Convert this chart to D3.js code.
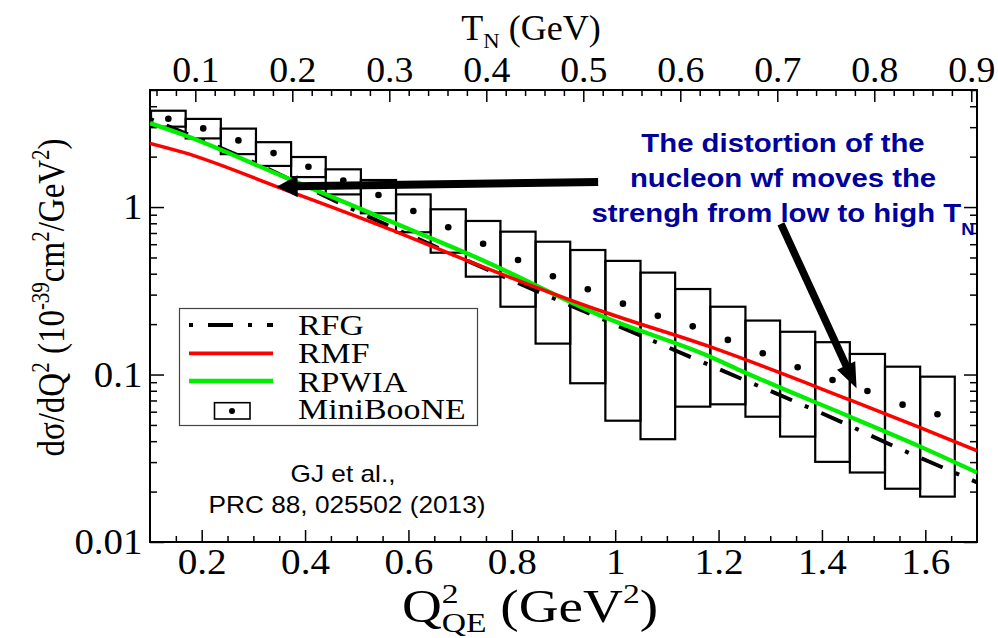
<!DOCTYPE html>
<html><head><meta charset="utf-8">
<script src="https://cdn.jsdelivr.net/npm/d3@7"></script>
<style>body{margin:0;background:#fff;} svg{display:block;}</style>
</head><body>
<svg id="c" width="998" height="638"></svg>
<script>
// ---------------- data ----------------
const q2Domain = [0.1, 1.7];
const yDomain = [0.01, 5];
const nucleonMass = 0.9383; // GeV, T_N = Q^2 / (2 M)

// MiniBooNE bins (Q^2_QE edges, GeV^2) and values (central, lower, upper)
const binEdges = [0.102, 0.169, 0.237, 0.305, 0.373, 0.440, 0.508, 0.576, 0.643, 0.711, 0.778, 0.846,
                  0.913, 0.981, 1.049, 1.116, 1.184, 1.252, 1.319, 1.387, 1.454, 1.522, 1.590, 1.657];
const mbCentral = [3.37, 2.95, 2.50, 2.10, 1.74, 1.44, 1.18, 0.948, 0.757, 0.604, 0.483, 0.386,
                   0.323, 0.265, 0.224, 0.194, 0.161, 0.134, 0.1105, 0.0928, 0.0798, 0.0661, 0.0579];
const mbLow     = [3.02, 2.57, 2.07, 1.76, 1.51, 1.19, 0.918, 0.707, 0.534, 0.384, 0.254, 0.153,
                   0.0887, 0.053, 0.0411, 0.0643, 0.0664, 0.056, 0.0426, 0.0301, 0.0260, 0.0208, 0.01866];
const mbHigh    = [3.76, 3.36, 2.94, 2.44, 1.99, 1.68, 1.45, 1.19, 0.970, 0.826, 0.713, 0.621,
                   0.554, 0.477, 0.406, 0.324, 0.254, 0.210, 0.180, 0.156, 0.1327, 0.1114, 0.0971];

// Theory curves
const rmfQ2   = [0.1, 0.1645, 0.358, 0.551, 0.738, 0.977, 1.183, 1.454, 1.590, 1.700];
const rmfVal  = [2.40, 2.12, 1.28, 0.764, 0.447, 0.237, 0.1466, 0.0705, 0.0482, 0.0351];
const rpwiaQ2  = [0.1, 0.1645, 0.358, 0.551, 0.738, 0.976, 1.183, 1.240, 1.454, 1.590, 1.700];
const rpwiaVal = [3.17, 2.70, 1.52, 0.857, 0.490, 0.222, 0.128, 0.1065, 0.056, 0.0371, 0.026];
const rfgQ2  = [0.1, 0.251, 0.545, 0.758, 0.845, 0.945, 1.045, 1.144, 1.242, 1.351, 1.443, 1.541, 1.639, 1.700];
const rfgVal = [3.36, 2.16, 0.815, 0.417, 0.318, 0.235, 0.173, 0.128, 0.095, 0.0683, 0.0512, 0.0371, 0.0274, 0.0227];

// Tick labels
const bottomMajor = [0.2, 0.4, 0.6, 0.8, 1.0, 1.2, 1.4, 1.6];
const bottomLabels = ["0.2", "0.4", "0.6", "0.8", "1", "1.2", "1.4", "1.6"];
const topMajor = [0.1, 0.2, 0.3, 0.4, 0.5, 0.6, 0.7, 0.8, 0.9];
const topLabels = ["0.1", "0.2", "0.3", "0.4", "0.5", "0.6", "0.7", "0.8", "0.9"];
const yMajor = [0.01, 0.1, 1];
const yLabels = ["0.01", "0.1", "1"];

const legendNames = ["RFG", "RMF", "RPWIA", "MiniBooNE"];
const noteLines = ["The distortion of the", "nucleon wf moves the", "strengh from low to high T"];
const citeLines = ["GJ et al.,", "PRC 88, 025502 (2013)"];

// annotation arrows in data coordinates [Q2, value]
const arrow1 = {from: [0.967, 1.412], to: [0.345, 1.324]};
const arrow2 = {from: [1.3207, 0.793], to: [1.467, 0.0828]};

// ---------------- layout ----------------
const P = {l: 150, r: 977, t: 90, b: 542};
const SERIF = "'Liberation Serif','Times New Roman',serif";
const SANS = "'Liberation Sans',Arial,sans-serif";
const svg = d3.select("#c");

const x = d3.scaleLinear().domain(q2Domain).range([P.l, P.r]);
const xT = d3.scaleLinear().domain(q2Domain.map(q => q / (2 * nucleonMass))).range([P.l, P.r]);
const y = d3.scaleLog().domain(yDomain).range([P.b, P.t]);

svg.append("defs").append("clipPath").attr("id", "clip")
  .append("rect").attr("x", P.l).attr("y", P.t).attr("width", P.r - P.l).attr("height", P.b - P.t);

// minor tick values
const bottomMinor = d3.range(0.15, 1.70, 0.05).filter(v => !bottomMajor.some(m => Math.abs(m - v) < 1e-6));
const topMinor = d3.range(0.06, 0.905, 0.02).filter(v => !topMajor.some(m => Math.abs(m - v) < 1e-6));
const yMinor = [];
[0.01, 0.1, 1].forEach(d => { for (let k = 2; k <= 9; k++) { const v = d * k; if (v <= 5) yMinor.push(v); } });

function styleAxis(g, fs, sx) {
  g.attr("font-family", SERIF).attr("font-size", fs);
  g.select(".domain").remove();
  g.selectAll(".tick line").attr("stroke", "#000").attr("stroke-width", 1.5);
  g.selectAll(".tick text").attr("fill", "#000").attr("transform", `scale(${sx},1)`);
}

// bottom axis
const gb = svg.append("g").attr("transform", `translate(0,${P.b})`)
  .call(d3.axisBottom(x).tickValues(bottomMajor).tickSize(-12).tickSizeOuter(0).tickPadding(7)
    .tickFormat((d, i) => bottomLabels[i]));
styleAxis(gb, 35, 1.12);
const gbm = svg.append("g").attr("transform", `translate(0,${P.b})`)
  .call(d3.axisBottom(x).tickValues(bottomMinor).tickSize(-6).tickSizeOuter(0).tickFormat(""));
styleAxis(gbm, 35, 1);

// top axis (T_N)
const gt = svg.append("g").attr("transform", `translate(0,${P.t})`)
  .call(d3.axisTop(xT).tickValues(topMajor).tickSize(-12).tickSizeOuter(0).tickPadding(8)
    .tickFormat((d, i) => topLabels[i]));
styleAxis(gt, 36, 1.05);
const gtm = svg.append("g").attr("transform", `translate(0,${P.t})`)
  .call(d3.axisTop(xT).tickValues(topMinor).tickSize(-6).tickSizeOuter(0).tickFormat(""));
styleAxis(gtm, 36, 1);

// left axis
const gl = svg.append("g").attr("transform", `translate(${P.l},0)`)
  .call(d3.axisLeft(y).tickValues(yMajor).tickSize(-14).tickSizeOuter(0).tickPadding(7)
    .tickFormat((d, i) => yLabels[i]));
styleAxis(gl, 36, 1.08);
const glm = svg.append("g").attr("transform", `translate(${P.l},0)`)
  .call(d3.axisLeft(y).tickValues(yMinor).tickSize(-7).tickSizeOuter(0).tickFormat(""));
styleAxis(glm, 36, 1);

// right axis
const gr = svg.append("g").attr("transform", `translate(${P.r},0)`)
  .call(d3.axisRight(y).tickValues(yMajor).tickSize(-13).tickSizeOuter(0).tickFormat(""));
styleAxis(gr, 36, 1);
const grm = svg.append("g").attr("transform", `translate(${P.r},0)`)
  .call(d3.axisRight(y).tickValues(yMinor).tickSize(-7).tickSizeOuter(0).tickFormat(""));
styleAxis(grm, 36, 1);

// frame
svg.append("rect").attr("x", P.l).attr("y", P.t).attr("width", P.r - P.l).attr("height", P.b - P.t)
  .attr("fill", "none").attr("stroke", "#000").attr("stroke-width", 2);

// ---------------- data marks ----------------
const plotG = svg.append("g").attr("clip-path", "url(#clip)");

const bins = mbCentral.map((c, i) => ({lo: binEdges[i], hi: binEdges[i + 1], c, l: mbLow[i], h: mbHigh[i]}));
plotG.selectAll("rect.box").data(bins).join("rect").attr("class", "box")
  .attr("x", d => x(d.lo)).attr("width", d => x(d.hi) - x(d.lo))
  .attr("y", d => y(d.h)).attr("height", d => y(d.l) - y(d.h))
  .attr("fill", "none").attr("stroke", "#000").attr("stroke-width", 2.2);

const line = d3.line().x(d => x(d[0])).y(d => y(d[1])).curve(d3.curveMonotoneX);
const RFG_DASH = "4,14,23,14";
plotG.append("path").datum(rfgQ2.map((q, i) => [q, rfgVal[i]])).attr("d", line)
  .attr("fill", "none").attr("stroke", "#000").attr("stroke-width", 4).attr("stroke-dasharray", RFG_DASH);
plotG.append("path").datum(rpwiaQ2.map((q, i) => [q, rpwiaVal[i]])).attr("d", line)
  .attr("fill", "none").attr("stroke", "#00ee00").attr("stroke-width", 4.3);
plotG.append("path").datum(rmfQ2.map((q, i) => [q, rmfVal[i]])).attr("d", line)
  .attr("fill", "none").attr("stroke", "#ff0000").attr("stroke-width", 3.5);

plotG.selectAll("circle.pt").data(bins).join("circle").attr("class", "pt")
  .attr("cx", d => x((d.lo + d.hi) / 2)).attr("cy", d => y(d.c)).attr("r", 3.3).attr("fill", "#000");

// ---------------- legend ----------------
const lg = svg.append("g");
lg.append("rect").attr("x", 179.5).attr("y", 308.5).attr("width", 298).attr("height", 117)
  .attr("fill", "#fff").attr("stroke", "#444").attr("stroke-width", 1.2);
const rowY = [325, 353.3, 381, 409];
const baseY = [335, 363.3, 391.7, 419.3];
lg.append("line").attr("x1", 189).attr("x2", 273).attr("y1", rowY[0]).attr("y2", rowY[0])
  .attr("stroke", "#000").attr("stroke-width", 4).attr("stroke-dasharray", "4,15,25,15");
lg.append("line").attr("x1", 189).attr("x2", 273).attr("y1", rowY[1]).attr("y2", rowY[1])
  .attr("stroke", "#ff0000").attr("stroke-width", 3.8);
lg.append("line").attr("x1", 189).attr("x2", 273).attr("y1", rowY[2]).attr("y2", rowY[2])
  .attr("stroke", "#00ee00").attr("stroke-width", 4.5);
lg.append("rect").attr("x", 214.5).attr("y", 402.7).attr("width", 35.5).attr("height", 16.3)
  .attr("fill", "none").attr("stroke", "#000").attr("stroke-width", 1.6);
lg.append("circle").attr("cx", 232).attr("cy", 411).attr("r", 3).attr("fill", "#000");
legendNames.forEach((n, i) => {
  lg.append("text").attr("transform", `translate(298,${baseY[i]}) scale(1.13,1)`)
    .attr("font-family", SERIF).attr("font-size", 30).attr("fill", "#000").text(n);
});

// citation
citeLines.forEach((t, i) => {
  svg.append("text").attr("transform", `translate(${i ? 347 : 343},${i ? 513 : 482}) scale(1.14,1)`)
    .attr("text-anchor", "middle").attr("font-family", SANS).attr("font-size", 23).attr("fill", "#000").text(t);
});

// ---------------- annotation ----------------
const noteBase = [151.7, 186.7, 221.7];
noteLines.forEach((t, i) => {
  const tx = svg.append("text").attr("transform", `translate(783,${noteBase[i]}) scale(1.15,1)`)
    .attr("text-anchor", "middle").attr("font-family", SANS).attr("font-weight", "bold")
    .attr("font-size", 25.5).attr("fill", "#00009c");
  tx.append("tspan").text(t);
  if (i === 2) tx.append("tspan").attr("font-size", 16).attr("dy", 13).text("N");
});

function arrow(a, w, headLen, headHalf) {
  const x0 = x(a.from[0]), y0 = y(a.from[1]), x1 = x(a.to[0]), y1 = y(a.to[1]);
  const L = Math.hypot(x1 - x0, y1 - y0), ux = (x1 - x0) / L, uy = (y1 - y0) / L;
  const bx = x1 - ux * headLen, by = y1 - uy * headLen;
  svg.append("line").attr("x1", x0).attr("y1", y0).attr("x2", bx + ux * 2).attr("y2", by + uy * 2)
    .attr("stroke", "#000").attr("stroke-width", w);
  svg.append("path").attr("d", `M${x1},${y1}L${bx - uy * headHalf},${by + ux * headHalf}L${bx + uy * headHalf},${by - ux * headHalf}Z`)
    .attr("fill", "#000");
}
arrow(arrow1, 8, 21, 11);
arrow(arrow2, 7.5, 25, 10);

// ---------------- axis titles ----------------
const tt = svg.append("text").attr("transform", "translate(531,40) scale(1.03,1)").attr("text-anchor", "middle")
  .attr("font-family", SERIF).attr("font-size", 35).attr("fill", "#000");
tt.append("tspan").text("T");
tt.append("tspan").attr("font-size", 22).attr("dy", 8).text("N");
tt.append("tspan").attr("dy", -8).text(" (GeV)");

const bt = svg.append("text").attr("transform", "translate(530,622) scale(1.2,1)").attr("text-anchor", "middle")
  .attr("font-family", SERIF).attr("font-size", 46).attr("fill", "#000");
bt.append("tspan").text("Q");
bt.append("tspan").attr("font-size", 28).attr("dy", -19).text("2");
bt.append("tspan").attr("font-size", 28).attr("dx", -14).attr("dy", 29).text("QE");
bt.append("tspan").attr("dy", -10).text(" (GeV");
bt.append("tspan").attr("font-size", 28).attr("dy", -19).text("2");
bt.append("tspan").attr("dy", 19).text(")");

const yt = svg.append("text").attr("transform", "translate(64,297.5) rotate(-90) scale(1,1.15)").attr("text-anchor", "middle")
  .attr("font-family", SERIF).attr("font-size", 33).attr("fill", "#000");
yt.append("tspan").text("dσ/dQ");
yt.append("tspan").attr("font-size", 21).attr("dy", -13).text("2");
yt.append("tspan").attr("dy", 13).text(" (10");
yt.append("tspan").attr("font-size", 21).attr("dy", -13).text("-39");
yt.append("tspan").attr("dy", 13).text("cm");
yt.append("tspan").attr("font-size", 21).attr("dy", -13).text("2");
yt.append("tspan").attr("dy", 13).text("/GeV");
yt.append("tspan").attr("font-size", 21).attr("dy", -13).text("2");
yt.append("tspan").attr("dy", 13).text(")");
</script>
</body></html>
